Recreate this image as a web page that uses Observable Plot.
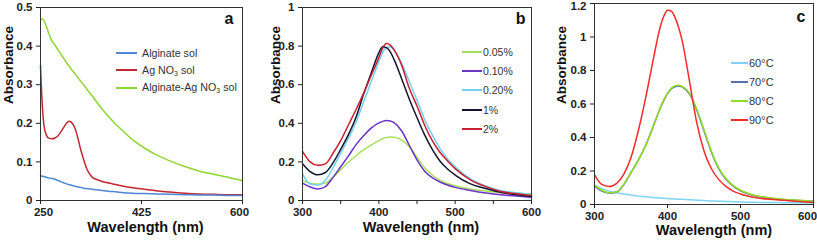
<!DOCTYPE html>
<html>
<head>
<meta charset="utf-8">
<script src="https://cdn.jsdelivr.net/npm/d3@7"></script>
<script src="https://cdn.jsdelivr.net/npm/@observablehq/plot@0.6"></script>
<style>
  html, body { margin: 0; padding: 0; background: #fff; }
  #chart { position: relative; width: 817px; height: 242px; overflow: hidden; font-family: "Liberation Sans", Arial, sans-serif; }
  #chart svg { position: absolute; top: 0; background: transparent; overflow: visible; max-width: none; }
  .legend { position: absolute; color: #333; font-family: "Liberation Sans", Arial, sans-serif; }
  .legend .row { display: flex; align-items: center; white-space: nowrap; }
  .legend .sw { display: inline-block; height: 2px; }
  .legend sub { font-size: 7px; vertical-align: -2px; }
</style>
</head>
<body>
<div id="chart"></div>
<script>
// ---------- Panel a ----------
const wlA = [250, 253, 256, 260, 265, 270, 275, 280, 285, 290, 295, 300, 305, 310, 315, 320, 325, 330, 335, 340, 350, 360, 375, 390, 410, 430, 450, 475, 500, 525, 550, 575, 600];
const alginateSol = [0.064, 0.063, 0.062, 0.060, 0.058, 0.057, 0.055, 0.052, 0.049, 0.046, 0.043, 0.041, 0.039, 0.037, 0.035, 0.034, 0.032, 0.031, 0.030, 0.029, 0.027, 0.025, 0.023, 0.021, 0.019, 0.018, 0.017, 0.016, 0.015, 0.014, 0.014, 0.013, 0.013];
const agno3Sol = [0.350, 0.250, 0.195, 0.170, 0.161, 0.160, 0.162, 0.167, 0.177, 0.189, 0.200, 0.205, 0.200, 0.186, 0.160, 0.130, 0.105, 0.083, 0.069, 0.060, 0.053, 0.048, 0.043, 0.038, 0.033, 0.029, 0.025, 0.022, 0.019, 0.017, 0.016, 0.015, 0.015];
const alginateAgno3Sol = [0.468, 0.470, 0.466, 0.452, 0.430, 0.413, 0.403, 0.391, 0.380, 0.369, 0.357, 0.347, 0.337, 0.328, 0.318, 0.308, 0.299, 0.289, 0.279, 0.270, 0.250, 0.231, 0.206, 0.184, 0.157, 0.136, 0.119, 0.102, 0.088, 0.076, 0.068, 0.060, 0.051];
const xTicksA = [250, 425, 600];
const yTicksA = [0, 0.1, 0.2, 0.3, 0.4, 0.5];
const labelsA = ["Alginate sol", "Ag NO<sub>3</sub> sol", "Alginate-Ag NO<sub>3</sub> sol"];
const colorsA = ["#4f86d8", "#c3262f", "#8fd534"];

// ---------- Panel b ----------
const wlB = [300, 310, 320, 330, 340, 350, 360, 370, 380, 390, 400, 405, 410, 415, 420, 430, 440, 450, 460, 470, 480, 490, 500, 520, 540, 560, 580, 600];
const b005 = [0.103, 0.090, 0.085, 0.090, 0.120, 0.160, 0.198, 0.232, 0.262, 0.287, 0.310, 0.320, 0.327, 0.329, 0.328, 0.313, 0.278, 0.224, 0.170, 0.132, 0.105, 0.088, 0.076, 0.060, 0.049, 0.041, 0.037, 0.034];
const b010 = [0.090, 0.070, 0.060, 0.072, 0.120, 0.175, 0.230, 0.288, 0.335, 0.375, 0.402, 0.410, 0.414, 0.412, 0.403, 0.360, 0.285, 0.210, 0.152, 0.118, 0.096, 0.080, 0.068, 0.052, 0.039, 0.030, 0.023, 0.017];
const b020 = [0.138, 0.085, 0.080, 0.105, 0.170, 0.245, 0.320, 0.405, 0.510, 0.615, 0.720, 0.768, 0.792, 0.797, 0.780, 0.710, 0.615, 0.520, 0.420, 0.340, 0.270, 0.215, 0.175, 0.112, 0.075, 0.051, 0.040, 0.031];
const b1 = [0.190, 0.150, 0.133, 0.145, 0.195, 0.265, 0.340, 0.430, 0.550, 0.660, 0.765, 0.797, 0.792, 0.770, 0.730, 0.630, 0.525, 0.430, 0.340, 0.265, 0.205, 0.163, 0.132, 0.086, 0.062, 0.042, 0.030, 0.021];
const b2 = [0.255, 0.200, 0.182, 0.190, 0.245, 0.310, 0.390, 0.470, 0.555, 0.648, 0.740, 0.790, 0.813, 0.805, 0.780, 0.700, 0.580, 0.490, 0.390, 0.310, 0.250, 0.205, 0.165, 0.107, 0.072, 0.047, 0.035, 0.026];
const xTicksB = [300, 400, 500, 600];
const xMinorB = [350, 450, 550];
const yTicksB = [0, 0.2, 0.4, 0.6, 0.8, 1];
const labelsB = ["0.05%", "0.10%", "0.20%", "1%", "2%"];
const colorsB = ["#a6e05a", "#6a32c8", "#72d0f2", "#141430", "#c8202e"];

// ---------- Panel c ----------
const wlC = [300, 310, 320, 330, 340, 350, 360, 370, 380, 390, 395, 400, 405, 410, 415, 420, 430, 440, 450, 460, 470, 480, 490, 500, 520, 540, 560, 580, 600];
const c60 = [0.116, 0.095, 0.080, 0.070, 0.063, 0.057, 0.050, 0.046, 0.042, 0.039, 0.037, 0.036, 0.034, 0.033, 0.032, 0.031, 0.028, 0.026, 0.024, 0.021, 0.020, 0.018, 0.017, 0.015, 0.013, 0.012, 0.011, 0.010, 0.009];
const c70 = [0.110, 0.080, 0.068, 0.073, 0.118, 0.190, 0.265, 0.352, 0.460, 0.575, 0.622, 0.662, 0.690, 0.703, 0.708, 0.702, 0.660, 0.565, 0.440, 0.315, 0.215, 0.150, 0.110, 0.082, 0.052, 0.038, 0.029, 0.024, 0.019];
const c80 = [0.116, 0.085, 0.070, 0.074, 0.120, 0.190, 0.265, 0.350, 0.460, 0.575, 0.625, 0.665, 0.693, 0.708, 0.712, 0.705, 0.665, 0.570, 0.445, 0.320, 0.220, 0.155, 0.113, 0.085, 0.054, 0.040, 0.030, 0.025, 0.020];
const c90 = [0.177, 0.120, 0.108, 0.125, 0.180, 0.280, 0.440, 0.635, 0.855, 1.060, 1.125, 1.160, 1.155, 1.120, 1.060, 0.980, 0.740, 0.490, 0.320, 0.215, 0.150, 0.108, 0.080, 0.063, 0.042, 0.031, 0.025, 0.018, 0.012];
const xTicksC = [300, 400, 500, 600];
const yTicksC = [0, 0.2, 0.4, 0.6, 0.8, 1, 1.2];
const labelsC = ["60°C", "70°C", "80°C", "90°C"];
const colorsC = ["#7fd3f4", "#5d6db2", "#8fdc22", "#f02c2c"];

// ---------- helpers ----------
const FONT = "'Liberation Sans', Arial, sans-serif";
const rows = (wl, vals) => wl.map((x, i) => ({x, y: vals[i]}));
const fmt = d => String(d);

function panel({width, margins, xDomain, xTicks, xMinor = [], xNudge = {}, yDomain, yTicks, yNudge = {}, series, colors, letter, letterDx, letterDy, yTitleDx, xTitleDx, xTitleDy}) {
  const [mt, mr, mb, ml] = margins;
  const nudgedX = Object.keys(xNudge).map(Number);
  const nudgedY = Object.keys(yNudge).map(Number);
  return Plot.plot({
    width, height: 242,
    marginTop: mt, marginRight: mr, marginBottom: mb, marginLeft: ml,
    style: {fontFamily: FONT, fontSize: "11.5px", fontWeight: "bold", color: "#222", background: "transparent", overflow: "visible"},
    x: {domain: xDomain},
    y: {domain: yDomain},
    marks: [
      ...series.map((s, i) => Plot.line(s, {x: "x", y: "y", stroke: colors[i], strokeWidth: 1.5, curve: "monotone-x"})),
      Plot.frame({stroke: "#333", strokeWidth: 1}),
      Plot.axisX([...xTicks, ...xMinor].sort((a, b) => a - b), {tickSize: 4, tickPadding: 3, label: null,
        tickFormat: d => (xTicks.includes(d) && !nudgedX.includes(d) ? fmt(d) : "")}),
      ...nudgedX.map(v => Plot.axisX([v], {tickSize: 0, tickPadding: 7, dx: xNudge[v], label: null, tickFormat: fmt})),
      Plot.axisY(yTicks, {tickSize: 4, tickPadding: 4, label: null,
        tickFormat: d => (nudgedY.includes(d) ? "" : fmt(d))}),
      ...nudgedY.map(v => Plot.axisY([v], {tickSize: 0, tickPadding: 8, dy: yNudge[v], label: null, tickFormat: fmt})),
      Plot.text([letter], {text: d => d, frameAnchor: "top-right", dx: letterDx, dy: letterDy, fontSize: 16, fontWeight: "bold", fill: "#111"}),
      Plot.text(["Absorbance"], {text: d => d, frameAnchor: "left", rotate: -90, dx: yTitleDx, fontSize: 13.5, fontWeight: "bold", fill: "#111"}),
      Plot.text(["Wavelength (nm)"], {text: d => d, frameAnchor: "bottom", lineAnchor: "middle", dx: xTitleDx, dy: xTitleDy, fontSize: 14.5, fontWeight: "bold", fill: "#111"})
    ]
  });
}

function legend(parent, {left, firstY, rowH, swW, gap, fontSize}, labels, colors) {
  const div = document.createElement("div");
  div.className = "legend";
  div.style.left = left + "px";
  div.style.top = (firstY - rowH / 2) + "px";
  div.style.fontSize = fontSize + "px";
  labels.forEach((lab, i) => {
    const r = document.createElement("div");
    r.className = "row";
    r.style.height = rowH + "px";
    const sw = document.createElement("span");
    sw.className = "sw";
    sw.style.width = swW + "px";
    sw.style.background = colors[i];
    const t = document.createElement("span");
    t.style.marginLeft = gap + "px";
    t.innerHTML = lab;
    r.append(sw, t);
    div.append(r);
  });
  parent.append(div);
}

const wrap = document.getElementById("chart");
function place(svg, left) { svg.style.left = left + "px"; wrap.append(svg); }

place(panel({
  width: 270, margins: [7, 28, 42, 40],
  xDomain: [250, 600], xTicks: xTicksA, xNudge: {250: 3, 600: -3}, yDomain: [0, 0.5], yTicks: yTicksA,
  series: [rows(wlA, alginateAgno3Sol), rows(wlA, agno3Sol), rows(wlA, alginateSol)],
  colors: [colorsA[2], colorsA[1], colorsA[0]],
  letter: "a", letterDx: -9, letterDy: 5, yTitleDx: -32, xTitleDx: 4, xTitleDy: 27
}), 0);

place(panel({
  width: 280, margins: [7, 11, 42, 40],
  xDomain: [300, 600], xTicks: xTicksB, xMinor: xMinorB,
  yDomain: [0, 1], yTicks: yTicksB,
  series: [rows(wlB, b005), rows(wlB, b010), rows(wlB, b020), rows(wlB, b1), rows(wlB, b2)],
  colors: colorsB,
  letter: "b", letterDx: -6, letterDy: 5, yTitleDx: -27, xTitleDx: 4, xTitleDy: 27
}), 262);

place(panel({
  width: 272, margins: [3, 4, 38, 49],
  xDomain: [300, 600], xTicks: xTicksC, xNudge: {600: -6}, yDomain: [0, 1.2], yTicks: yTicksC, yNudge: {1.2: 3},
  series: [rows(wlC, c60), rows(wlC, c70), rows(wlC, c80), rows(wlC, c90)],
  colors: colorsC,
  letter: "c", letterDx: -8, letterDy: 7, yTitleDx: -33, xTitleDx: 10, xTitleDy: 26
}), 545);

legend(wrap, {left: 116, firstY: 52.7, rowH: 17.5, swW: 21, gap: 5, fontSize: 10.7}, labelsA, colorsA);
legend(wrap, {left: 462, firstY: 51.7, rowH: 19.4, swW: 20, gap: 1, fontSize: 10.5}, labelsB, colorsB);
legend(wrap, {left: 731, firstY: 62.7, rowH: 19, swW: 17, gap: 1, fontSize: 11}, labelsC, colorsC);
</script>
</body>
</html>
